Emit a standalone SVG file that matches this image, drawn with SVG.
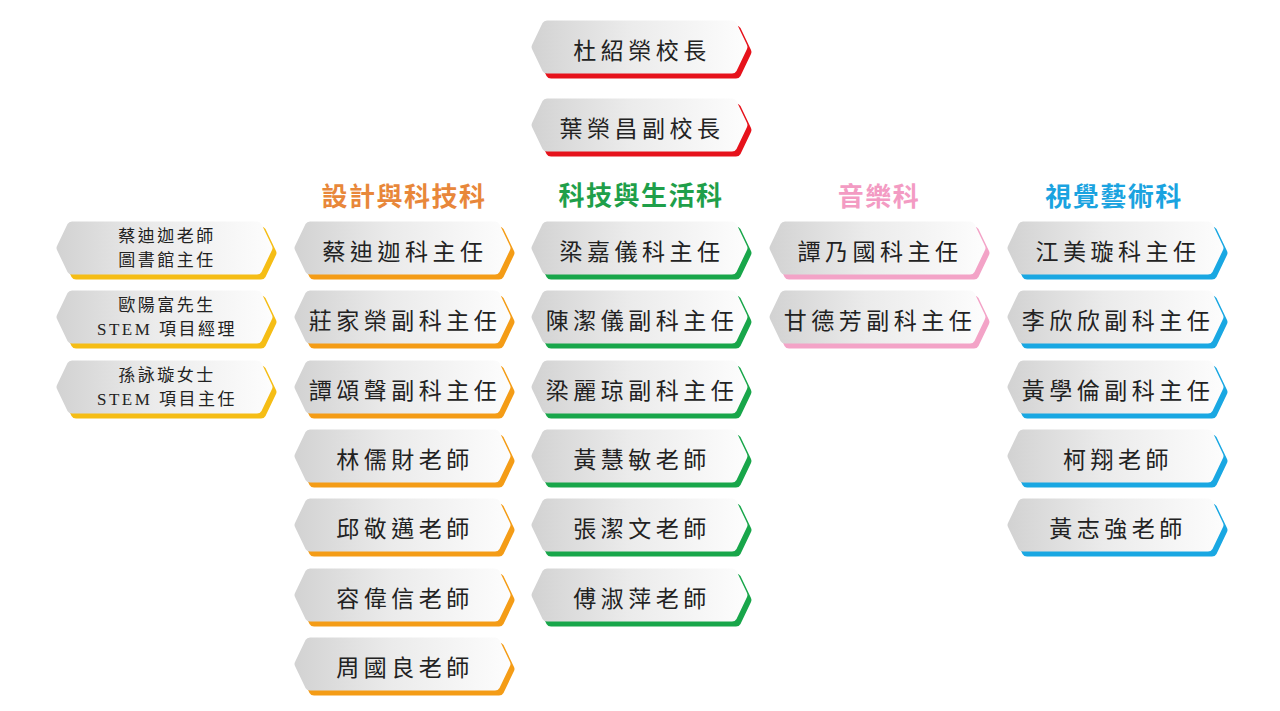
<svg xmlns="http://www.w3.org/2000/svg" xmlns:xlink="http://www.w3.org/1999/xlink" width="1280" height="711" viewBox="0 0 1280 711">
<style>
.face{fill:url(#g);}
.red{fill:#e6121b;}
.yel{fill:#f5bd15;}
.org{fill:#f49c16;}
.grn{fill:#18a64a;}
.pnk{fill:#f3a3c7;}
.blu{fill:#19a7e2;}
.t{font-family:"Liberation Serif","Noto Sans CJK TC",serif;font-size:23px;fill:#222;text-anchor:middle;letter-spacing:4.5px;}
.s{font-family:"Liberation Serif","Noto Sans CJK TC",serif;font-size:17px;fill:#222;text-anchor:middle;letter-spacing:2.5px;}
.h{font-family:"Noto Sans CJK TC","Noto Sans",sans-serif;font-size:26px;font-weight:bold;text-anchor:middle;letter-spacing:1.5px;}
</style>
<defs>
<linearGradient id="g" x1="0" y1="0" x2="1" y2="0">
<stop offset="0" stop-color="#d2d2d2"/>
<stop offset="0.45" stop-color="#ebebeb"/>
<stop offset="1" stop-color="#fdfdfd"/>
</linearGradient>
<path id="f" d="M16,0.5 H201 Q204,0.5 205.5,3 L216,25 Q217,27 216,29 L205.5,51 Q204,53.5 201,53.5 H16 Q13,53.5 11.5,51 L1,29 Q0,27 1,25 L11.5,3 Q13,0.5 16,0.5 Z"/>
</defs>
<rect width="1280" height="711" fill="#ffffff"/>
<g id="connectors"/>

<g id="principal" transform="translate(531,20)"><use xlink:href="#f" class="red" x="4" y="5"/><use xlink:href="#f" class="face"/><text class="t" x="111" y="39">杜紹榮校長</text></g>
<g id="vice-principal" transform="translate(531,98)"><use xlink:href="#f" class="red" x="4" y="5"/><use xlink:href="#f" class="face"/><text class="t" x="111" y="39">葉榮昌副校長</text></g>

<g id="headings">
<text class="h" x="404" y="206" fill="#e8873a">設計與科技科</text>
<text class="h" x="641" y="205" fill="#1f9f4a">科技與生活科</text>
<text class="h" x="879" y="206" fill="#f39bc3">音樂科</text>
<text class="h" x="1114" y="206" fill="#1aa3e0">視覺藝術科</text>
</g>

<g id="left-1" transform="translate(56,221)"><use xlink:href="#f" class="yel" x="4" y="5"/><use xlink:href="#f" class="face"/><text class="s" x="111" y="21">蔡迪迦老師</text><text class="s" x="111" y="45">圖書館主任</text></g>
<g id="left-2" transform="translate(56,290)"><use xlink:href="#f" class="yel" x="4" y="5"/><use xlink:href="#f" class="face"/><text class="s" x="111" y="21">歐陽富先生</text><text class="s" x="111" y="45" letter-spacing="1.5px">STEM 項目經理</text></g>
<g id="left-3" transform="translate(56,360)"><use xlink:href="#f" class="yel" x="4" y="5"/><use xlink:href="#f" class="face"/><text class="s" x="111" y="21">孫詠璇女士</text><text class="s" x="111" y="45" letter-spacing="1.5px">STEM 項目主任</text></g>

<g id="dt-1" transform="translate(294,221)"><use xlink:href="#f" class="org" x="4" y="5"/><use xlink:href="#f" class="face"/><text class="t" x="111" y="39">蔡迪迦科主任</text></g>
<g id="dt-2" transform="translate(294,290)"><use xlink:href="#f" class="org" x="4" y="5"/><use xlink:href="#f" class="face"/><text class="t" x="111" y="39">莊家榮副科主任</text></g>
<g id="dt-3" transform="translate(294,360)"><use xlink:href="#f" class="org" x="4" y="5"/><use xlink:href="#f" class="face"/><text class="t" x="111" y="39">譚頌聲副科主任</text></g>
<g id="dt-4" transform="translate(294,429)"><use xlink:href="#f" class="org" x="4" y="5"/><use xlink:href="#f" class="face"/><text class="t" x="111" y="39">林儒財老師</text></g>
<g id="dt-5" transform="translate(294,498)"><use xlink:href="#f" class="org" x="4" y="5"/><use xlink:href="#f" class="face"/><text class="t" x="111" y="39">邱敬邁老師</text></g>
<g id="dt-6" transform="translate(294,568)"><use xlink:href="#f" class="org" x="4" y="5"/><use xlink:href="#f" class="face"/><text class="t" x="111" y="39">容偉信老師</text></g>
<g id="dt-7" transform="translate(294,637)"><use xlink:href="#f" class="org" x="4" y="5"/><use xlink:href="#f" class="face"/><text class="t" x="111" y="39">周國良老師</text></g>

<g id="tl-1" transform="translate(531,221)"><use xlink:href="#f" class="grn" x="4" y="5"/><use xlink:href="#f" class="face"/><text class="t" x="111" y="39">梁嘉儀科主任</text></g>
<g id="tl-2" transform="translate(531,290)"><use xlink:href="#f" class="grn" x="4" y="5"/><use xlink:href="#f" class="face"/><text class="t" x="111" y="39">陳潔儀副科主任</text></g>
<g id="tl-3" transform="translate(531,360)"><use xlink:href="#f" class="grn" x="4" y="5"/><use xlink:href="#f" class="face"/><text class="t" x="111" y="39">梁麗琼副科主任</text></g>
<g id="tl-4" transform="translate(531,429)"><use xlink:href="#f" class="grn" x="4" y="5"/><use xlink:href="#f" class="face"/><text class="t" x="111" y="39">黃慧敏老師</text></g>
<g id="tl-5" transform="translate(531,498)"><use xlink:href="#f" class="grn" x="4" y="5"/><use xlink:href="#f" class="face"/><text class="t" x="111" y="39">張潔文老師</text></g>
<g id="tl-6" transform="translate(531,568)"><use xlink:href="#f" class="grn" x="4" y="5"/><use xlink:href="#f" class="face"/><text class="t" x="111" y="39">傅淑萍老師</text></g>

<g id="mu-1" transform="translate(769,221)"><use xlink:href="#f" class="pnk" x="4" y="5"/><use xlink:href="#f" class="face"/><text class="t" x="111" y="39">譚乃國科主任</text></g>
<g id="mu-2" transform="translate(769,290)"><use xlink:href="#f" class="pnk" x="4" y="5"/><use xlink:href="#f" class="face"/><text class="t" x="111" y="39">甘德芳副科主任</text></g>

<g id="va-1" transform="translate(1007,221)"><use xlink:href="#f" class="blu" x="4" y="5"/><use xlink:href="#f" class="face"/><text class="t" x="111" y="39">江美璇科主任</text></g>
<g id="va-2" transform="translate(1007,290)"><use xlink:href="#f" class="blu" x="4" y="5"/><use xlink:href="#f" class="face"/><text class="t" x="111" y="39">李欣欣副科主任</text></g>
<g id="va-3" transform="translate(1007,360)"><use xlink:href="#f" class="blu" x="4" y="5"/><use xlink:href="#f" class="face"/><text class="t" x="111" y="39">黃學倫副科主任</text></g>
<g id="va-4" transform="translate(1007,429)"><use xlink:href="#f" class="blu" x="4" y="5"/><use xlink:href="#f" class="face"/><text class="t" x="111" y="39">柯翔老師</text></g>
<g id="va-5" transform="translate(1007,498)"><use xlink:href="#f" class="blu" x="4" y="5"/><use xlink:href="#f" class="face"/><text class="t" x="111" y="39">黃志強老師</text></g>
</svg>
